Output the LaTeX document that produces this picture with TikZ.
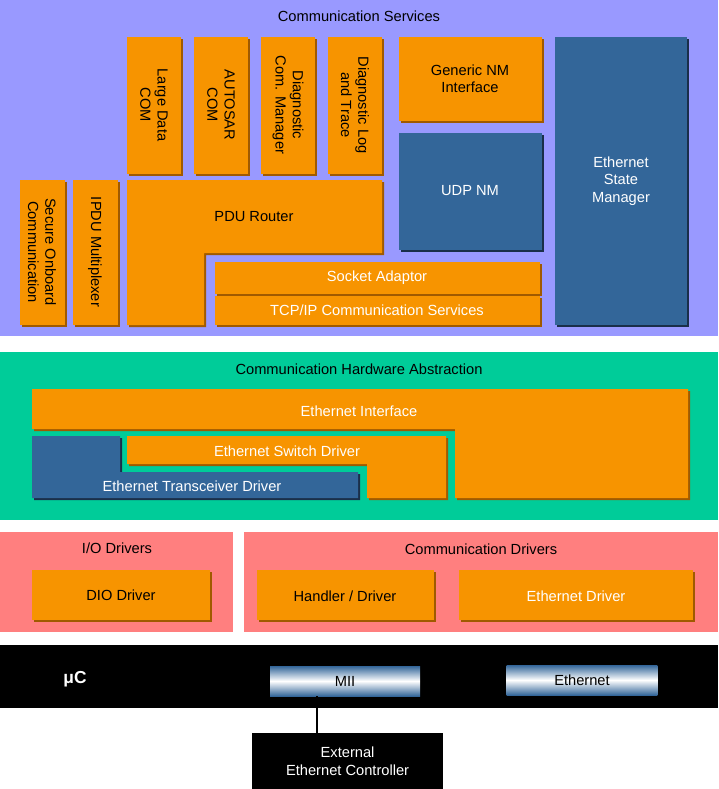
\documentclass[tikz,border=0pt]{standalone}
\usepackage{fontspec}
\setmainfont{Liberation Sans}
\usetikzlibrary{positioning, shadows}
\definecolor{svcbg}{HTML}{9999FF}
\definecolor{hwbg}{HTML}{00CC99}
\definecolor{drvbg}{HTML}{FF7F7F}
\definecolor{modorange}{HTML}{F79400}
\definecolor{modblue}{HTML}{336699}
\definecolor{shadeorange}{HTML}{A05A00}
\definecolor{shadeblue}{HTML}{1A2F4A}

\begin{document}
\begin{tikzpicture}[
    x=0.75pt, y=-0.75pt,
    font=\fontsize{11}{13}\selectfont,
    layer/.style={fill=#1, draw=none},
    mod/.style={fill=modorange, draw=none, drop shadow={shadow xshift=1.5pt, shadow yshift=-1.5pt, fill=shadeorange, opacity=1}},
    bmod/.style={fill=modblue, draw=none, drop shadow={shadow xshift=1.5pt, shadow yshift=-1.5pt, fill=shadeblue, opacity=1}},
    label/.style={inner sep=0pt, align=center},
    vlabel/.style={inner sep=0pt, align=center, rotate=-90},
    bus/.style={draw=none, top color=modblue, bottom color=modblue, middle color=white}
]
    \useasboundingbox (0,0) rectangle (718,789);

    % layers
    \fill[layer=svcbg] (0,0) rectangle (718,336);
    \fill[layer=hwbg] (0,352) rectangle (718,520);
    \fill[layer=drvbg] (0,532) rectangle (233,632);
    \fill[layer=drvbg] (244,532) rectangle (718,632);
    \fill[black] (0,645) rectangle (718,708);

    \node[label] (svc) at (359,16) {Communication Services};
    \node[label] (hw) at (359,369) {Communication Hardware Abstraction};
    \node[label] (io) at (117,548) {I/O Drivers};
    \node[label] (cdrv) at (481,549) {Communication Drivers};
    \node[label, text=white, font=\fontsize{13}{15}\selectfont\bfseries] (uc) at (75,679) {μC};

    % communication services
    \path[mod] (127,37) rectangle (181,174);
    \node[vlabel] (ldcom) at (154,105) {Large Data\\COM};
    \path[mod] (194,37) rectangle (248,174);
    \node[vlabel] (ascom) at (221,105) {AUTOSAR\\COM};
    \path[mod] (261,37) rectangle (315,174);
    \node[vlabel] (dcm) at (288,105) {Diagnostic\\Com. Manager};
    \path[mod] (328,37) rectangle (382,174);
    \node[vlabel] (dlt) at (355,105) {Diagnostic Log\\and Trace};
    \path[mod] (399,37) rectangle (542,121);
    \node[label] (gnm) at (470,79) {Generic NM\\Interface};
    \path[bmod] (399,133) rectangle (542,250);
    \node[label, text=white] (udpnm) at (470,191) {UDP NM};
    \path[bmod] (555,37) rectangle (687,325);
    \node[label, text=white] (ethsm) at (621,181) {Ethernet\\State\\Manager};
    \path[mod] (20,180) rectangle (65,325);
    \node[vlabel] (secoc) at (42,252) {Secure Onboard\\Communication};
    \path[mod] (73,180) rectangle (118,325);
    \node[vlabel] (ipdum) at (95,252) {IPDU Multiplexer};
    \path[mod] (127,180) -- (382,180) -- (382,253) -- (204,253) -- (204,325) -- (127,325) -- cycle;
    \node[label] (pdur) at (254,217) {PDU Router};
    \path[mod] (215,262) rectangle (540,294);
    \node[label, text=white] (soad) at (377,278) {Socket Adaptor};
    \path[mod] (215,296) rectangle (540,325);
    \node[label, text=white] (tcpip) at (377,310) {TCP/IP Communication Services};

    % hardware abstraction
    \path[mod] (32,389) -- (688,389) -- (688,498) -- (455,498) -- (455,429) -- (32,429) -- cycle;
    \node[label, text=white] (ethif) at (359,411) {Ethernet Interface};
    \path[bmod] (32,436) -- (120,436) -- (120,472) -- (358,472) -- (358,498) -- (32,498) -- cycle;
    \node[label, text=white] (ethtrcv) at (192,486) {Ethernet Transceiver Driver};
    \path[mod] (127,436) -- (446,436) -- (446,498) -- (367,498) -- (367,464) -- (127,464) -- cycle;
    \node[label, text=white] (ethswt) at (287,451) {Ethernet Switch Driver};

    % drivers
    \path[mod] (32,570) rectangle (210,620);
    \node[label] (dio) at (121,595) {DIO Driver};
    \path[mod] (257,570) rectangle (434,620);
    \node[label] (hnd) at (345,596) {Handler / Driver};
    \path[mod] (459,570) rectangle (693,620);
    \node[label, text=white] (eth) at (576,596) {Ethernet Driver};

    % microcontroller
    \node[bus, minimum width=112.5pt, minimum height=22.5pt, inner sep=0pt] (mii) at (345,681) {MII};
    \node[bus, minimum width=113pt, minimum height=22.5pt, inner sep=0pt] (ethbus) at (582,680) {Ethernet};
    \node[fill=black, text=white, align=center, minimum width=143pt, minimum height=42pt, inner sep=0pt, anchor=north west] (extctrl) at (252,733) {External\\Ethernet Controller};
    \coordinate (miidrop) at (317,0);
    \draw[thick] (mii.south -| miidrop) -- (extctrl.north -| miidrop);
\end{tikzpicture}
\end{document}
